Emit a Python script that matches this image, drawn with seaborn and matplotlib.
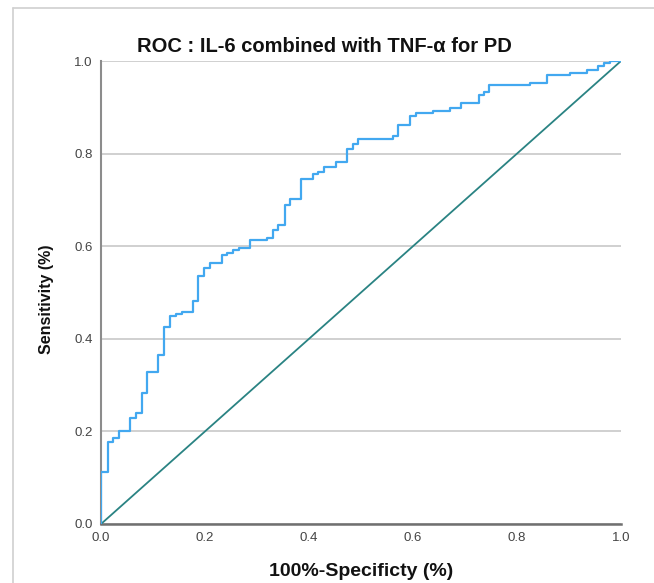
import matplotlib
matplotlib.use("Agg")
import matplotlib.pyplot as plt
import seaborn as sns
import pandas as pd
from matplotlib.lines import Line2D

# ---- data ----
fpr = [0.0, 0.0, 0.013, 0.024, 0.034, 0.056, 0.067, 0.078, 0.088, 0.110, 0.122,
       0.133, 0.144, 0.155, 0.177, 0.187, 0.198, 0.210, 0.232, 0.243, 0.254,
       0.266, 0.287, 0.319, 0.331, 0.341, 0.353, 0.363, 0.385, 0.407, 0.418,
       0.429, 0.451, 0.473, 0.484, 0.495, 0.561, 0.572, 0.594, 0.605, 0.638,
       0.671, 0.693, 0.726, 0.737, 0.747, 0.825, 0.857, 0.902, 0.935, 0.956,
       0.967, 0.979, 1.0]
tpr = [0.0, 0.113, 0.178, 0.185, 0.201, 0.229, 0.240, 0.283, 0.328, 0.366, 0.426,
       0.449, 0.453, 0.458, 0.481, 0.535, 0.553, 0.564, 0.580, 0.586, 0.592,
       0.597, 0.614, 0.618, 0.635, 0.646, 0.689, 0.701, 0.745, 0.755, 0.760,
       0.772, 0.782, 0.810, 0.821, 0.832, 0.837, 0.861, 0.882, 0.887, 0.892,
       0.898, 0.910, 0.926, 0.932, 0.948, 0.953, 0.970, 0.974, 0.981, 0.989,
       0.995, 1.0, 1.0]
ref_x = [0.0, 1.0]
ref_y = [0.0, 1.0]
ticks = [0.0, 0.2, 0.4, 0.6, 0.8, 1.0]
tick_labels = ["0.0", "0.2", "0.4", "0.6", "0.8", "1.0"]
title = "ROC : IL-6 combined with TNF-α for PD"
xlabel = "100%-Specificty (%)"
ylabel = "Sensitivity (%)"

sns.set_style("white")
plt.rcParams["font.family"] = ["Liberation Sans", "DejaVu Sans"]

fig = plt.figure(figsize=(6.54, 5.83), dpi=100)
ax = fig.add_axes([101 / 654, 1 - 524 / 583, 520 / 654, 463 / 583])

roc = pd.DataFrame({"fpr": fpr, "tpr": tpr})
ref = pd.DataFrame({"x": ref_x, "y": ref_y})

sns.lineplot(data=ref, x="x", y="y", ax=ax, color="#2A8383", linewidth=1.3,
             estimator=None, sort=False, zorder=3)
sns.lineplot(data=roc, x="fpr", y="tpr", ax=ax, color="#42A8F0", linewidth=1.6,
             estimator=None, sort=False, drawstyle="steps-post", zorder=4)

ax.set_xlim(0, 1)
ax.set_ylim(0, 1)
ax.set_xticks(ticks)
ax.set_xticklabels(tick_labels)
ax.set_yticks(ticks)
ax.set_yticklabels(tick_labels)
ax.tick_params(length=0, labelsize=9.5, colors="#444444")
ax.tick_params(axis="x", pad=6)
ax.tick_params(axis="y", pad=6)
ax.yaxis.grid(True, color="#C8C8C8", linewidth=1.2)
ax.xaxis.grid(False)
for s in ["top", "right"]:
    ax.spines[s].set_visible(False)
ax.spines["left"].set_color("#8C8C8C")
ax.spines["left"].set_linewidth(1.5)
ax.spines["bottom"].set_color("#707070")
ax.spines["bottom"].set_linewidth(1.8)

ax.set_xlabel(xlabel, fontsize=14, fontweight="bold", color="#111111")
ax.xaxis.set_label_coords(0.5, (524 - 571) / 463)
ax.xaxis.label.set_va("center")
ax.set_ylabel(ylabel, fontsize=11.5, fontweight="bold", color="#111111")
ax.yaxis.set_label_coords((46 - 101) / 520, (524 - 299) / 463)
ax.yaxis.label.set_va("center")
ax.set_title("")
fig.text(324 / 654, 1 - 47 / 583, title, fontsize=14.5, fontweight="bold",
         color="#111111", ha="center", va="center")

# outer light frame
fig.add_artist(Line2D([13 / 654, 13 / 654], [0, 1 - 7.5 / 583], transform=fig.transFigure,
                      color="#D0D0D0", linewidth=1.2))
fig.add_artist(Line2D([13 / 654, 1], [1 - 7.5 / 583, 1 - 7.5 / 583], transform=fig.transFigure,
                      color="#D0D0D0", linewidth=1.2))

fig.savefig("out.png", dpi=100)
